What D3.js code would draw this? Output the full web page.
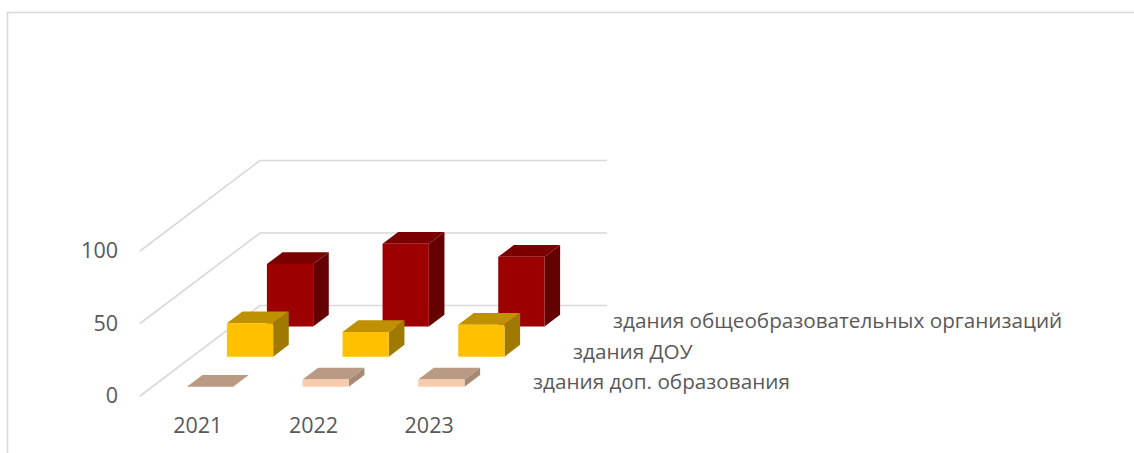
<!DOCTYPE html>
<html>
<head>
<meta charset="utf-8">
<script src="https://cdn.jsdelivr.net/npm/d3@7"></script>
<style>
  html, body { margin: 0; padding: 0; background: #fff; }
  svg { display: block; }
  text { font-family: "Open Sans", sans-serif; fill: #595959; }
  .tick text { font-size: 21.5px; }
  .series-label { font-size: 20.7px; }
</style>
</head>
<body>
<div id="chart"></div>
<script>
// values
var years = ["2021", "2022", "2023"];
var seriesNames = ["здания доп. образования", "здания ДОУ", "здания общеобразовательных организаций"];
var dopValues = [0, 5, 5];
var douValues = [23, 17, 22];
var schoolValues = [43, 57, 48];
var valueTicks = [0, 50, 100];

// front, top, side colours, same order as seriesNames
var frontColors = ["#f8cbad", "#ffc000", "#9c0000"];
var topColors = ["#ba9a82", "#bf9000", "#7a0000"];
var sideColors = ["#a68a76", "#a07a00", "#640000"];

var allValues = [dopValues, douValues, schoolValues];

var width = 1134, height = 453;
var origin = {x: 140, y: 396};
var depth = {x: 120, y: -90.5};

var svg = d3.select("#chart").append("svg")
  .attr("width", width)
  .attr("height", height);

// outer frame, cut by the right and bottom of the picture
svg.append("path")
  .attr("d", "M7.5," + height + "V12.5H" + width)
  .attr("fill", "none")
  .attr("stroke", "#d9d9d9")
  .attr("stroke-width", 1.6);

var x = d3.scaleBand()
  .domain(years)
  .range([0, 347])
  .paddingInner(0.6)
  .paddingOuter(0.3);

var y = d3.scaleLinear()
  .domain([0, 100])
  .range([0, -145]);

var z = d3.scaleBand()
  .domain(seriesNames)
  .range([0, 1])
  .paddingInner(0.61)
  .paddingOuter(0.305);

// x along the front, v up, d into the depth (0..1)
function project(px, v, d) {
  return [origin.x + px + depth.x * d, origin.y + y(v) + depth.y * d];
}

function poly(points) {
  return "M" + points.map(function(p) { return p.join(","); }).join("L") + "Z";
}

// gridlines: up the left wall, then along the back wall
svg.append("g").selectAll("path")
  .data(valueTicks)
  .enter().append("path")
  .attr("d", function(v) {
    var a = project(0, v, 0), b = project(0, v, 1), c = project(347, v, 1);
    return "M" + a.join(",") + "L" + b.join(",") + "L" + c.join(",");
  })
  .attr("fill", "none")
  .attr("stroke", "#d9d9d9")
  .attr("stroke-width", 1.6);

// back row first so the nearer bars sit on top
var bars = svg.append("g");
d3.range(seriesNames.length).reverse().forEach(function(s) {
  var name = seriesNames[s];
  years.forEach(function(year, i) {
    var v = allValues[s][i];
    var x0 = x(year), x1 = x0 + x.bandwidth();
    var d0 = z(name), d1 = d0 + z.bandwidth();
    var g = bars.append("g");

    g.append("path")
      .attr("d", poly([project(x1, 0, d0), project(x1, 0, d1), project(x1, v, d1), project(x1, v, d0)]))
      .attr("fill", sideColors[s]);
    g.append("path")
      .attr("d", poly([project(x0, v, d0), project(x1, v, d0), project(x1, v, d1), project(x0, v, d1)]))
      .attr("fill", topColors[s]);
    if (v > 0) {
      g.append("path")
        .attr("d", poly([project(x0, 0, d0), project(x1, 0, d0), project(x1, v, d0), project(x0, v, d0)]))
        .attr("fill", frontColors[s]);
    }
  });
});

// value axis
var yAxis = svg.append("g")
  .attr("transform", "translate(" + origin.x + "," + origin.y + ")")
  .call(d3.axisLeft(y).tickValues(valueTicks).tickSize(0).tickPadding(22));
yAxis.select(".domain").remove();

// year axis
var xAxis = svg.append("g")
  .attr("transform", "translate(" + origin.x + "," + (origin.y + 10) + ")")
  .call(d3.axisBottom(x).tickSize(0).tickPadding(12));
xAxis.select(".domain").remove();

// series names at the end of the depth axis
svg.append("g").selectAll("text")
  .data(seriesNames)
  .enter().append("text")
  .attr("class", "series-label")
  .attr("x", function(d) { return project(347 + 26, 0, z(d) + z.bandwidth() / 2)[0]; })
  .attr("y", function(d) { return project(347, 0, z(d) + z.bandwidth() / 2)[1]; })
  .attr("dy", "0.38em")
  .text(function(d) { return d; });
</script>
</body>
</html>
